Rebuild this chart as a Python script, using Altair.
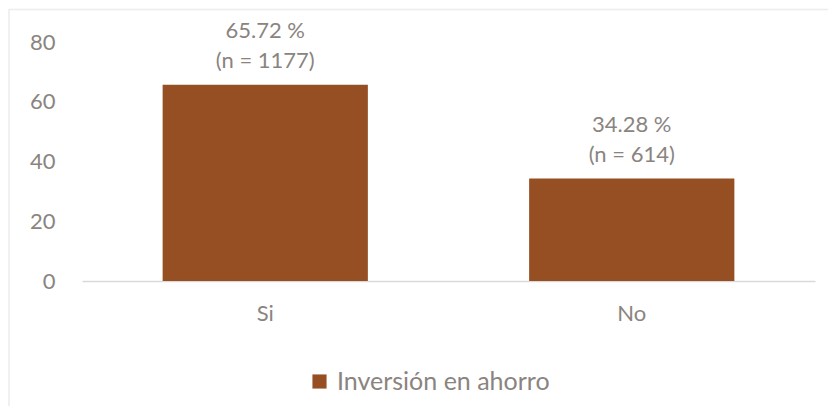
import altair as alt
import pandas as pd

categories = ["Si", "No"]
values = [65.72, 34.28]
counts = [1177, 614]
series = "Inversión en ahorro"

df = pd.DataFrame({
    "cat": categories,
    "val": values,
    "n": counts,
    "serie": [series] * len(categories),
})
df["line1"] = df["val"].map(lambda v: f"{v:.2f} %")
df["line2"] = df["n"].map(lambda n: f"(n = {n})")

FONT = "Lato"
TXT = "#8a8480"
BAR = "#954f23"

x_enc = alt.X("cat:N", sort=categories, title=None,
              scale=alt.Scale(paddingInner=0.44, paddingOuter=0.22),
              axis=alt.Axis(labelAngle=0, ticks=False, domainColor="#d9d9d9",
                            domainWidth=1.3, labelFont=FONT, labelFontSize=22,
                            labelColor=TXT, labelPadding=22))
y_enc = alt.Y("val:Q", title=None,
              scale=alt.Scale(domain=[0, 80], nice=False),
              axis=alt.Axis(values=[0, 20, 40, 60, 80], grid=False, domain=False,
                            ticks=False, labelFont=FONT, labelFontSize=22,
                            labelColor=TXT, labelPadding=27))

base = alt.Chart(df)

bars = base.mark_bar(color=BAR).encode(
    x=x_enc, y=y_enc,
    color=alt.Color("serie:N", scale=alt.Scale(range=[BAR]), title=None,
                    legend=alt.Legend(orient="none", legendX=225, legendY=327,
                                      direction="horizontal", symbolType="square",
                                      symbolSize=200, symbolStrokeWidth=0,
                                      labelFont=FONT, labelFontSize=25,
                                      labelColor=TXT, labelOffset=5,
                                      labelLimit=1000)),
)

t1 = base.mark_text(font=FONT, fontSize=22, color=TXT, baseline="middle", dy=-54).encode(
    x=alt.X("cat:N", sort=categories), y="val:Q", text="line1:N")
t2 = base.mark_text(font=FONT, fontSize=22, color=TXT, baseline="middle", dy=-24).encode(
    x=alt.X("cat:N", sort=categories), y="val:Q", text="line2:N")

frame = alt.Chart(pd.DataFrame({"a": [0]})).mark_rect(
    fill=None, stroke="#ececec", strokeWidth=1.5).encode(
    x=alt.value(-73), x2=alt.value(800), y=alt.value(-32.5), y2=alt.value(420))

chart = alt.layer(frame, bars, t1, t2).properties(
    width=733, height=239,
    autosize=alt.AutoSizeParams(type="none"),
    padding={"left": 74, "top": 34, "right": 13, "bottom": 125},
).configure(background="white").configure_view(strokeWidth=0, stroke="transparent")

chart.save("out.html", embed_options={"renderer": "svg", "actions": False})
